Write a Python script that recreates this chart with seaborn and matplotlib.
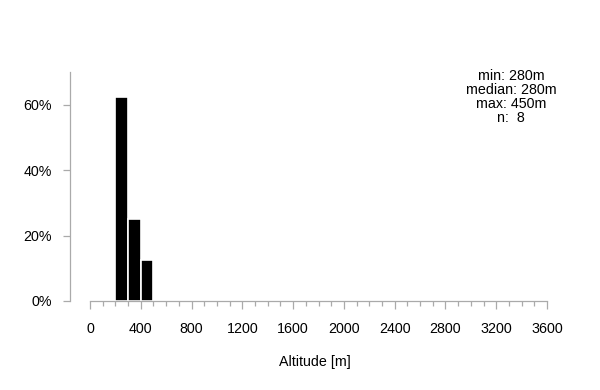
import matplotlib
matplotlib.use("Agg")
import matplotlib.pyplot as plt
import seaborn as sns
import numpy as np
import pandas as pd
from matplotlib.ticker import FixedLocator, PercentFormatter

# Data: altitudes of the 8 records (m)
altitudes = [280, 280, 280, 280, 280, 350, 380, 450]
bin_edges = [200, 300, 400, 500]
x_major = [0, 400, 800, 1200, 1600, 2000, 2400, 2800, 3200, 3600]
x_minor = list(range(0, 3601, 100))
y_ticks = [0.0, 0.2, 0.4, 0.6]
stats_lines = ["min: 280m", "median: 280m", "max: 450m", "n:  8"]

sns.set_theme(style="white")
plt.rcParams['font.family'] = ['Liberation Sans', 'DejaVu Sans']

df = pd.DataFrame({"alt": altitudes})

fig = plt.figure(figsize=(6, 3.9), dpi=100)
ax = fig.add_axes([70/600, (390-301)/390, (560-70)/600, (301-72)/390])

sns.histplot(data=df, x="alt", bins=bin_edges, stat="proportion",
             color="black", edgecolor="white", linewidth=1.2, alpha=1, ax=ax)

ax.set_xlim(-157.5, 3702)
ax.set_ylim(0, 0.7)

axis_col = "#aaaaaa"
for s in ["top", "right"]:
    ax.spines[s].set_visible(False)
ax.spines["left"].set_color(axis_col)
ax.spines["bottom"].set_color(axis_col)
ax.spines["left"].set_linewidth(0.9)
ax.spines["bottom"].set_linewidth(0.9)
ax.spines["bottom"].set_bounds(0, 3600)
ax.spines["left"].set_bounds(0, 0.7)

ax.xaxis.set_major_locator(FixedLocator(x_major))
ax.xaxis.set_minor_locator(FixedLocator(x_minor))
ax.set_xticklabels([str(v) for v in x_major])
ax.yaxis.set_major_locator(FixedLocator(y_ticks))
ax.yaxis.set_major_formatter(PercentFormatter(1.0, decimals=0))

ax.tick_params(axis="x", which="major", length=6, width=0.9, color=axis_col,
               direction="out", bottom=True, labelsize=10.3, pad=9, labelcolor="black")
ax.tick_params(axis="x", which="minor", length=3.5, width=0.9, color=axis_col,
               direction="out", bottom=True)
ax.tick_params(axis="y", which="major", length=5, width=0.9, color=axis_col,
               direction="out", left=True, labelsize=10.3, pad=8, labelcolor="black")

ax.set_xlabel("Altitude [m]", fontsize=10.3, labelpad=13.5, color="black")
ax.set_ylabel("")
ax.grid(False)

fig.text(511/600, 1 - 69/390, "\n".join(stats_lines), ha="center", va="top",
         fontsize=10.3, linespacing=1.0, color="black")

fig.savefig("out.png", dpi=100)
